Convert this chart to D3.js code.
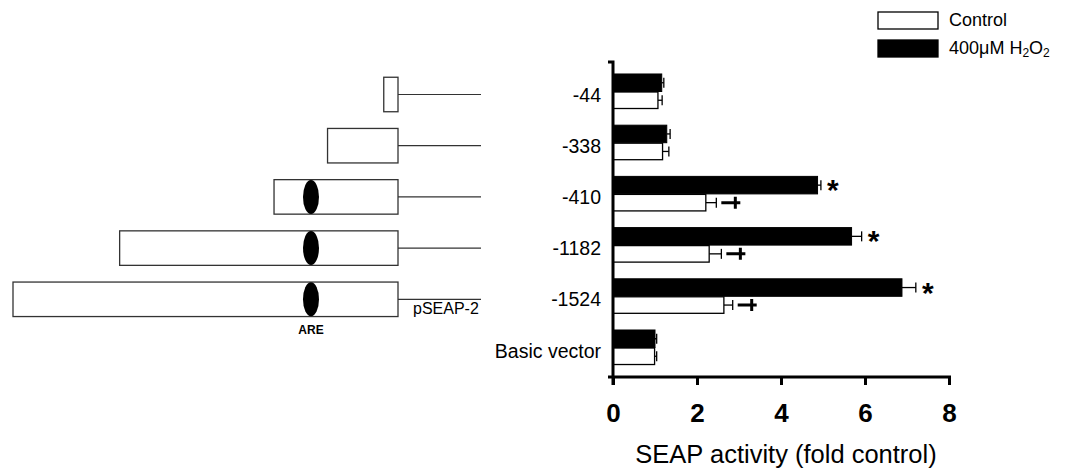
<!DOCTYPE html>
<html>
<head>
<meta charset="utf-8">
<script src="https://cdn.jsdelivr.net/npm/d3@7"></script>
<style>
  body { margin: 0; background: #fff; }
  svg { font-family: "Liberation Sans", Arial, sans-serif; }
</style>
</head>
<body>
<div id="chart"></div>
<script>
// Data
const categories = ["-44", "-338", "-410", "-1182", "-1524", "Basic vector"];
const h2o2Values = [1.16, 1.28, 4.87, 5.68, 6.88, 1.00];
const h2o2Errors = [0.05, 0.08, 0.08, 0.24, 0.33, 0.04];
const controlValues = [1.07, 1.18, 2.21, 2.29, 2.64, 0.99];
const controlErrors = [0.10, 0.15, 0.25, 0.29, 0.21, 0.05];
const starFlags = [false, false, true, true, true, false];   // * vs control
const crossFlags = [false, false, true, true, true, false];  // + vs basic vector
const xTicks = [0, 2, 4, 6, 8];

// Promoter construct schematic (relative lengths, % of longest construct)
const constructs = ["-44", "-338", "-410", "-1182", "-1524"];
const constructLen = [3.7, 18.3, 32.2, 72.3, 100];
const hasARE = [false, false, true, true, true];
const arePos = 22.6; // % from the 3' end

const width = 1065, height = 473;

const svg = d3.select("#chart").append("svg")
    .attr("width", width)
    .attr("height", height);

// Scales
const x = d3.scaleLinear().domain([0, 8]).range([613, 949]);
const y = d3.scaleBand().domain(categories).range([62, 377])
    .paddingInner(0.316).paddingOuter(0.234);
const sub = d3.scaleBand().domain(["h2o2", "control"]).range([0, y.bandwidth()]);

// Bars
const rows = categories.map((c, i) => ({
    cat: c,
    h2o2: h2o2Values[i], h2o2Err: h2o2Errors[i],
    control: controlValues[i], controlErr: controlErrors[i],
    star: starFlags[i], cross: crossFlags[i]
}));

const groups = svg.selectAll("g.group")
    .data(rows)
    .join("g")
    .attr("class", "group")
    .attr("transform", d => `translate(0,${y(d.cat)})`);

// error bars (drawn first so the bar covers the stem)
function errorBar(g, key, errKey, series) {
    g.append("line")
        .attr("x1", d => x(d[key]))
        .attr("x2", d => x(d[key] + d[errKey]))
        .attr("y1", sub(series) + sub.bandwidth() / 2)
        .attr("y2", sub(series) + sub.bandwidth() / 2)
        .attr("stroke", "#000").attr("stroke-width", 1.3);
    g.append("line")
        .attr("x1", d => x(d[key] + d[errKey]))
        .attr("x2", d => x(d[key] + d[errKey]))
        .attr("y1", sub(series) + sub.bandwidth() / 2 - 5)
        .attr("y2", sub(series) + sub.bandwidth() / 2 + 5)
        .attr("stroke", "#000").attr("stroke-width", 1.3);
}
errorBar(groups, "h2o2", "h2o2Err", "h2o2");
errorBar(groups, "control", "controlErr", "control");

groups.append("rect")
    .attr("x", x(0))
    .attr("y", sub("h2o2"))
    .attr("width", d => x(d.h2o2) - x(0))
    .attr("height", sub.bandwidth())
    .attr("fill", "#000")
    .attr("stroke", "#000").attr("stroke-width", 1);

groups.append("rect")
    .attr("x", x(0))
    .attr("y", sub("control") + 0.5)
    .attr("width", d => x(d.control) - x(0))
    .attr("height", sub.bandwidth() - 1)
    .attr("fill", "#fff")
    .attr("stroke", "#000").attr("stroke-width", 1.3);

// significance marks
groups.filter(d => d.star).append("text")
    .attr("x", d => x(d.h2o2 + d.h2o2Err) + 12)
    .attr("y", sub("h2o2") + sub.bandwidth() / 2 + 15)
    .attr("text-anchor", "middle")
    .attr("font-size", 30)
    .attr("font-weight", "bold")
    .text("*");

groups.filter(d => d.cross).append("path")
    .attr("d", d => {
        const x0 = x(d.control + d.controlErr) + 5;
        const cy = sub("control") + sub.bandwidth() / 2;
        return `M${x0},${cy}H${x0 + 19}M${x0 + 14},${cy - 6}V${cy + 6}`;
    })
    .attr("stroke", "#000").attr("stroke-width", 3).attr("fill", "none");

// Category labels
svg.selectAll("text.cat")
    .data(categories)
    .join("text")
    .attr("class", "cat")
    .attr("x", 601)
    .attr("y", d => y(d) + y.bandwidth() / 2 + 5)
    .attr("text-anchor", "end")
    .attr("dominant-baseline", "middle")
    .attr("font-size", 19.5)
    .text(d => d);

// Axes
const xAxis = svg.append("g")
    .attr("transform", `translate(0,377)`)
    .call(d3.axisBottom(x).tickValues(xTicks).tickSize(8).tickSizeOuter(0).tickPadding(19));
xAxis.select(".domain").attr("d", `M608,0H951`).attr("stroke-width", 3);
xAxis.selectAll(".tick line").attr("stroke-width", 3);
xAxis.selectAll(".tick text")
    .attr("font-family", "'Liberation Sans Narrow', 'Liberation Sans', Arial, sans-serif")
    .attr("font-size", 26)
    .attr("font-weight", "bold");

svg.append("path")
    .attr("d", `M608,${y.range()[0]}H${x(0)}V385`)
    .attr("stroke", "#000").attr("stroke-width", 3).attr("fill", "none");

svg.append("text")
    .attr("x", 786)
    .attr("y", 463)
    .attr("text-anchor", "middle")
    .attr("font-size", 25.5)
    .text("SEAP activity (fold control)");

// Legend
const legend = [
    { label: "Control", fill: "#fff" },
    { label: "400\u03BCM H", fill: "#000", h2o2: true }
];
const lg = svg.selectAll("g.legend")
    .data(legend)
    .join("g")
    .attr("class", "legend")
    .attr("transform", (d, i) => `translate(878,${12 + i * 28})`);
lg.append("rect")
    .attr("width", 60).attr("height", 17)
    .attr("fill", d => d.fill)
    .attr("stroke", "#000").attr("stroke-width", 1.3);
const lt = lg.append("text")
    .attr("x", 71).attr("y", 9)
    .attr("dominant-baseline", "middle")
    .attr("font-size", 18)
    .text(d => d.label);
lt.filter(d => d.h2o2).each(function () {
    const t = d3.select(this);
    t.append("tspan").attr("font-size", 12).attr("dy", 5).text("2");
    t.append("tspan").attr("dy", -5).text("O");
    t.append("tspan").attr("font-size", 12).attr("dy", 5).text("2");
});

// Promoter construct schematic
const s = d3.scaleLinear().domain([0, 100]).range([398, 13]);
const cons = constructs.map((c, i) => ({ cat: c, len: constructLen[i], are: hasARE[i] }));
const boxH = 34.5;
const cg = svg.selectAll("g.construct")
    .data(cons)
    .join("g")
    .attr("class", "construct")
    .attr("transform", d => `translate(0,${y(d.cat) + y.bandwidth() / 2 + 3})`);

cg.append("line")
    .attr("x1", s(0)).attr("x2", 481)
    .attr("y1", 0).attr("y2", 0)
    .attr("stroke", "#333").attr("stroke-width", 1.2);
cg.append("rect")
    .attr("x", d => s(d.len))
    .attr("y", -boxH / 2)
    .attr("width", d => s(0) - s(d.len))
    .attr("height", boxH)
    .attr("fill", "#fff")
    .attr("stroke", "#333").attr("stroke-width", 1.3);
cg.filter(d => d.are).append("ellipse")
    .attr("cx", s(arePos))
    .attr("cy", 0)
    .attr("rx", 8).attr("ry", 17)
    .attr("fill", "#000");

const last = cons[cons.length - 1];
const lastY = y(last.cat) + y.bandwidth() / 2 + 3;
svg.append("text")
    .attr("x", 413).attr("y", lastY + 10)
    .attr("dominant-baseline", "middle")
    .attr("font-size", 16)
    .text("pSEAP-2");
svg.append("text")
    .attr("x", s(arePos)).attr("y", lastY + 32)
    .attr("text-anchor", "middle")
    .attr("dominant-baseline", "middle")
    .attr("font-size", 12)
    .attr("font-weight", "bold")
    .text("ARE");
</script>
</body>
</html>
